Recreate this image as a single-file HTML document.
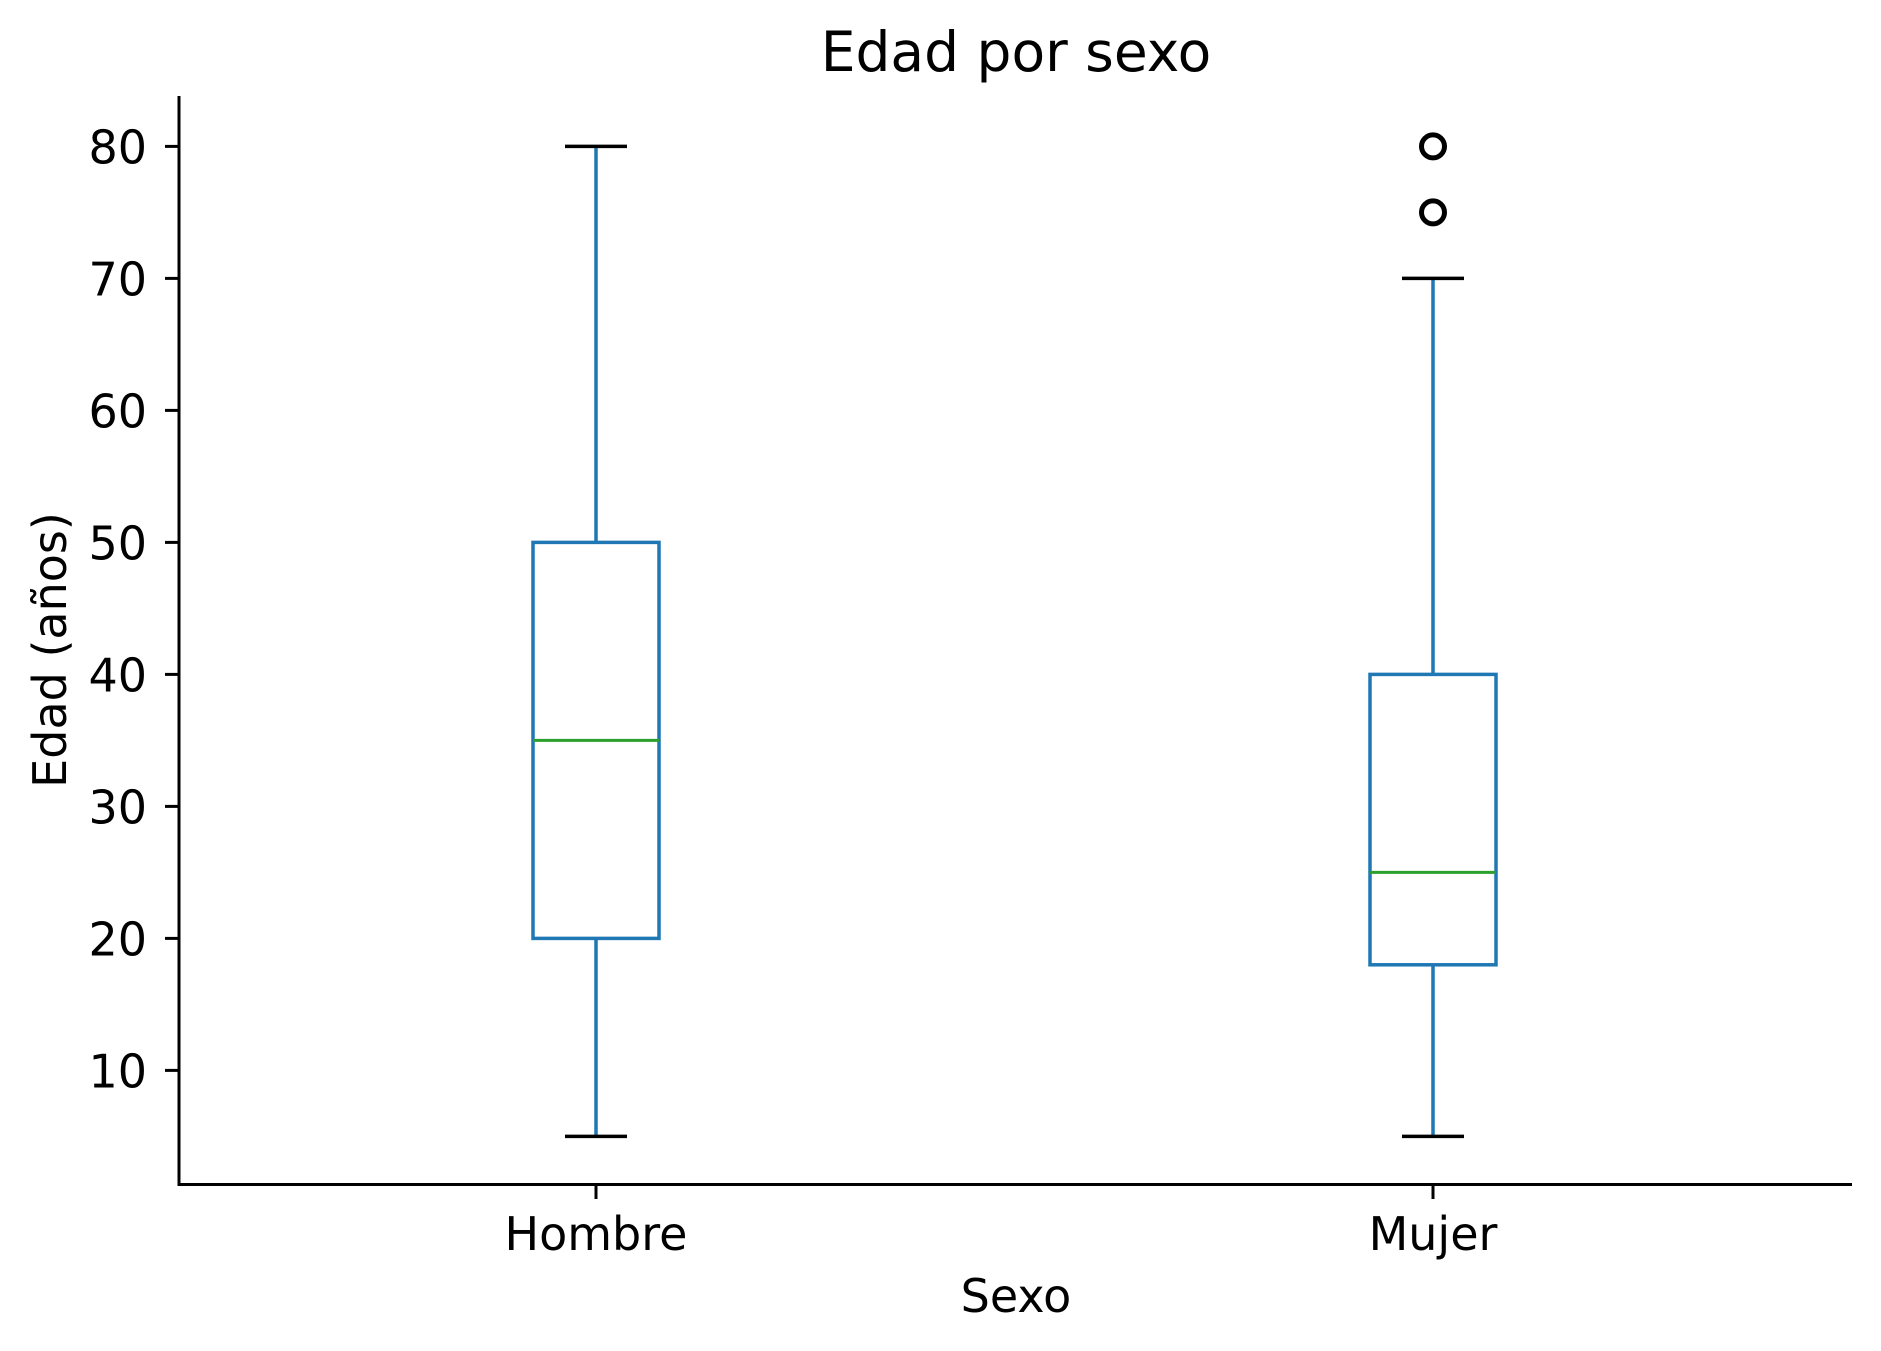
<!DOCTYPE html>
<html><head><meta charset="utf-8"><style>
html,body{margin:0;padding:0;background:#fff}
svg{display:block;font-family:"DejaVu Sans","Liberation Sans",sans-serif}
</style></head><body>
<svg id="chart" width="1881" height="1351" viewBox="0 0 1881 1351">
<text x="1016" y="71" font-size="55" text-anchor="middle">Edad por sexo</text>
<text x="1016" y="1312" font-size="46" text-anchor="middle">Sexo</text>
<text transform="translate(66,650) rotate(-90)" font-size="46" text-anchor="middle">Edad (años)</text>
<g id="marks"></g>
<line x1="179" y1="96" x2="179" y2="1186" stroke="#000" stroke-width="3"/>
<line x1="177.5" y1="1184.5" x2="1852" y2="1184.5" stroke="#000" stroke-width="3"/>
</svg>
<script>
const categories = ["Hombre", "Mujer"];
const whiskerLow = [5, 5];
const q1 = [20, 18];
const medians = [35, 25];
const q3 = [50, 40];
const whiskerHigh = [80, 70];
const fliers = [[], [75, 80]];
const yTicks = [10, 20, 30, 40, 50, 60, 70, 80];

const NS = "http://www.w3.org/2000/svg";
const g = document.getElementById('marks');
const yScale = v => 146.4 + (80 - v) * 13.2;
const xScale = i => 596 + i * 837;
const SW = 3.5;
function mk(tag, attrs, parent) {
  const e = document.createElementNS(NS, tag);
  for (const k in attrs) e.setAttribute(k, attrs[k]);
  (parent || g).appendChild(e);
  return e;
}
yTicks.forEach(t => {
  const y = yScale(t);
  const tk = mk('line', {x1: 165, x2: 179, y1: y, y2: y, stroke: '#000', 'stroke-width': 3});
  
  
  const lb = mk('text', {x: 147, y: y + 17, 'font-size': 46, 'text-anchor': 'end'});
  lb.textContent = t;
  
  
});
categories.forEach((c, i) => {
  const x = xScale(i);
  const tk = mk('line', {x1: x, x2: x, y1: 1185, y2: 1199, stroke: '#000', 'stroke-width': 3});
  
  
  const lb = mk('text', {x: x, y: 1250, 'font-size': 46, 'text-anchor': 'middle'});
  lb.textContent = c;
  
  
  const blue = '#1f77b4';
  const wl = mk('line', {x1: x, x2: x, y1: yScale(whiskerLow[i]), y2: yScale(q1[i]), stroke: blue, 'stroke-width': SW});
  
  
  const wh = mk('line', {x1: x, x2: x, y1: yScale(q3[i]), y2: yScale(whiskerHigh[i]), stroke: blue, 'stroke-width': SW});
  
  
  const box = mk('rect', {x: x - 63, y: yScale(q3[i]), width: 126, height: yScale(q1[i]) - yScale(q3[i]), fill: 'none', stroke: blue, 'stroke-width': SW});
  
  
  const md = mk('line', {x1: x - 63, x2: x + 63, y1: yScale(medians[i]), y2: yScale(medians[i]), stroke: '#2ca02c', 'stroke-width': 3});
  
  
  [whiskerLow[i], whiskerHigh[i]].forEach((v, j) => {
    const cap = mk('line', {x1: x - 31, x2: x + 31, y1: yScale(v), y2: yScale(v), stroke: '#000', 'stroke-width': SW});
    
    
  });
  fliers[i].forEach(v => {
    const f = mk('circle', {cx: x, cy: yScale(v), r: 11.5, fill: 'none', stroke: '#000', 'stroke-width': 5});
    
    
  });
});
</script>
</body></html>
